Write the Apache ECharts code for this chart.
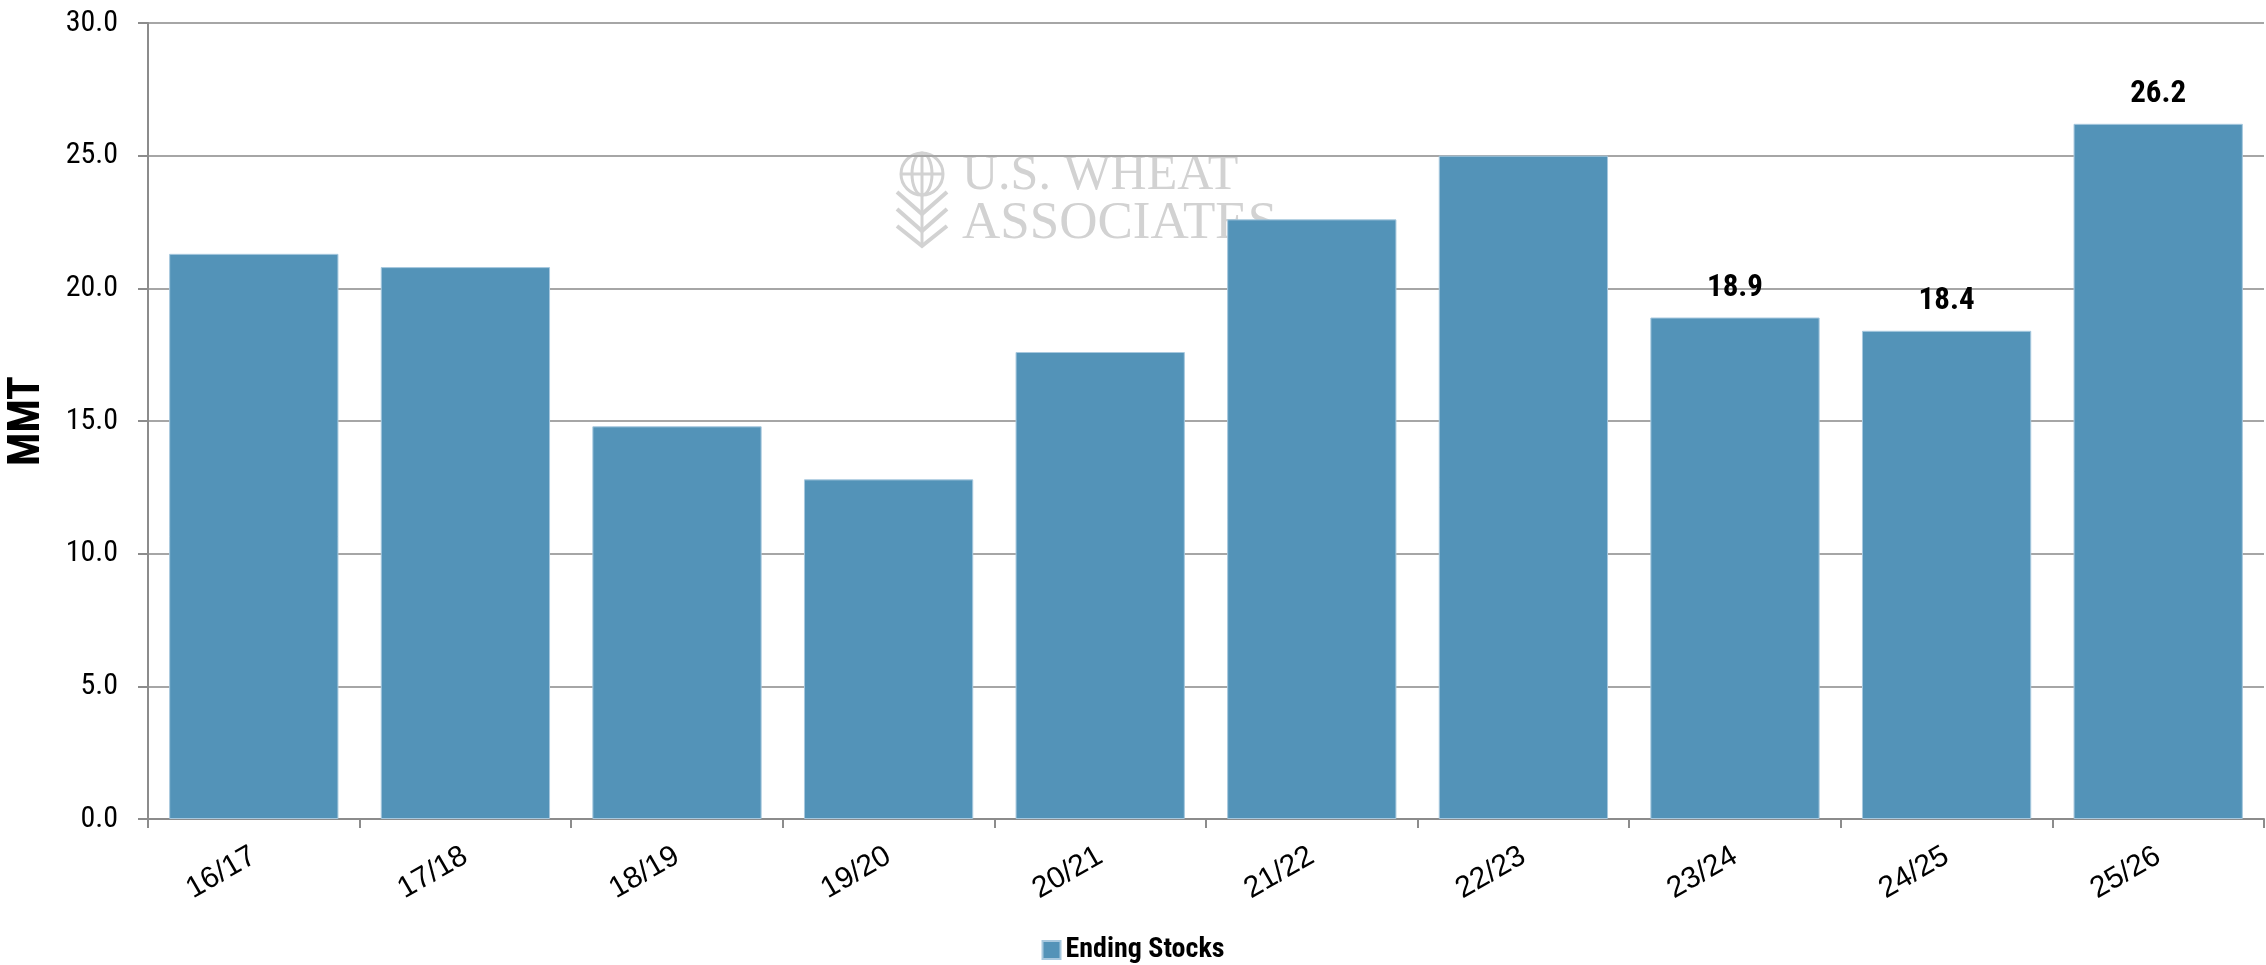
<!DOCTYPE html>
<html>
<head>
<meta charset="utf-8">
<title>Ending Stocks</title>
<script src="https://cdn.jsdelivr.net/npm/echarts@6/dist/echarts.min.js"></script>
<style>
  html, body { margin: 0; padding: 0; background: #ffffff; }
  #chart { width: 2266px; height: 965px; }
</style>
</head>
<body>
<div id="chart"></div>
<script>
// Marketing years on the category axis
const seasons = ['16/17', '17/18', '18/19', '19/20', '20/21', '21/22', '22/23', '23/24', '24/25', '25/26'];
// Ending stocks, million metric tons
const endingStocks = [21.3, 20.8, 14.8, 12.8, 17.6, 22.6, 25.0, 18.9, 18.4, 26.2];
// Seasons whose value is printed above the bar
const labeledSeasons = ['23/24', '24/25', '25/26'];
// Value axis ticks
const yTicks = { min: 0, max: 30, interval: 5 };

const CONDENSED = "'Roboto Condensed', 'Liberation Sans Narrow', 'Arial Narrow', Roboto, sans-serif";
const BAR = '#5393b8';
const WATERMARK = '#d2d2d2';

const barData = endingStocks.map((v, i) => ({
  value: v,
  label: { show: labeledSeasons.includes(seasons[i]) }
}));

const chart = echarts.init(document.getElementById('chart'), null, { renderer: 'canvas' });

// Faint association logo behind the bars
const SERIF = "'Liberation Serif', 'DejaVu Serif', serif";
const logo = {
  type: 'group',
  z: -10,
  silent: true,
  children: [
    { type: 'circle', shape: { cx: 922, cy: 174, r: 21 }, style: { fill: 'none', stroke: WATERMARK, lineWidth: 3 } },
    { type: 'line', shape: { x1: 901, y1: 174, x2: 943, y2: 174 }, style: { stroke: WATERMARK, lineWidth: 3 } },
    { type: 'line', shape: { x1: 922, y1: 153, x2: 922, y2: 246 }, style: { stroke: WATERMARK, lineWidth: 3 } },
    { type: 'ellipse', shape: { cx: 922, cy: 174, rx: 10, ry: 21 }, style: { fill: 'none', stroke: WATERMARK, lineWidth: 3 } },
    { type: 'polyline', shape: { points: [[897, 192], [922, 214], [947, 192]] }, style: { fill: 'none', stroke: WATERMARK, lineWidth: 4 } },
    { type: 'polyline', shape: { points: [[897, 209], [922, 231], [947, 209]] }, style: { fill: 'none', stroke: WATERMARK, lineWidth: 4 } },
    { type: 'polyline', shape: { points: [[897, 226], [922, 246], [947, 226]] }, style: { fill: 'none', stroke: WATERMARK, lineWidth: 4 } },
    { type: 'text', x: 962, y: 176, style: { text: 'U.S. WHEAT', fill: WATERMARK, font: '50px ' + SERIF, verticalAlign: 'middle' } },
    { type: 'text', x: 962, y: 224, style: { text: 'ASSOCIATES', fill: WATERMARK, font: '53px ' + SERIF, verticalAlign: 'middle' } }
  ]
};

chart.setOption({
  animation: false,
  backgroundColor: '#ffffff',
  graphic: [logo],
  grid: { left: 148, right: 2, top: 23, bottom: 146, outerBoundsMode: 'none' },
  legend: {
    show: true,
    bottom: -4,
    left: 'center',
    icon: 'rect',
    itemWidth: 18,
    itemHeight: 18,
    itemGap: 8,
    textStyle: { fontFamily: CONDENSED, fontWeight: 'bold', fontSize: 28, color: '#000000' },
    data: ['Ending Stocks']
  },
  xAxis: {
    type: 'category',
    data: seasons,
    axisLine: { lineStyle: { color: '#8c8c8c', width: 2 } },
    axisTick: { show: true, length: 9, lineStyle: { color: '#8c8c8c', width: 2 } },
    axisLabel: {
      rotate: 30,
      margin: 35,
      interval: 0,
      fontFamily: "'Liberation Sans', Arial, sans-serif",
      fontSize: 30,
      color: '#000000'
    }
  },
  yAxis: {
    type: 'value',
    min: yTicks.min,
    max: yTicks.max,
    interval: yTicks.interval,
    name: 'MMT',
    nameLocation: 'middle',
    nameRotate: 90,
    nameGap: 98,
    nameTextStyle: { fontFamily: CONDENSED, fontWeight: 'bold', fontSize: 44, color: '#000000' },
    axisLine: { show: true, lineStyle: { color: '#8c8c8c', width: 2 } },
    axisTick: { show: true, length: 10, lineStyle: { color: '#8c8c8c', width: 2 } },
    axisLabel: {
      margin: 30,
      fontFamily: CONDENSED,
      fontSize: 30,
      color: '#000000',
      formatter: v => v.toFixed(1)
    },
    splitLine: { show: true, lineStyle: { color: '#a6a6a6', width: 2 } }
  },
  series: [{
    name: 'Ending Stocks',
    type: 'bar',
    data: barData,
    barCategoryGap: '20%',
    itemStyle: { color: BAR, borderColor: '#a7c8de', borderWidth: 1 },
    label: {
      position: 'top',
      distance: 14,
      fontFamily: CONDENSED,
      fontWeight: 'bold',
      fontSize: 31,
      color: '#000000',
      formatter: p => p.value.toFixed(1)
    }
  }]
});
</script>
</body>
</html>
